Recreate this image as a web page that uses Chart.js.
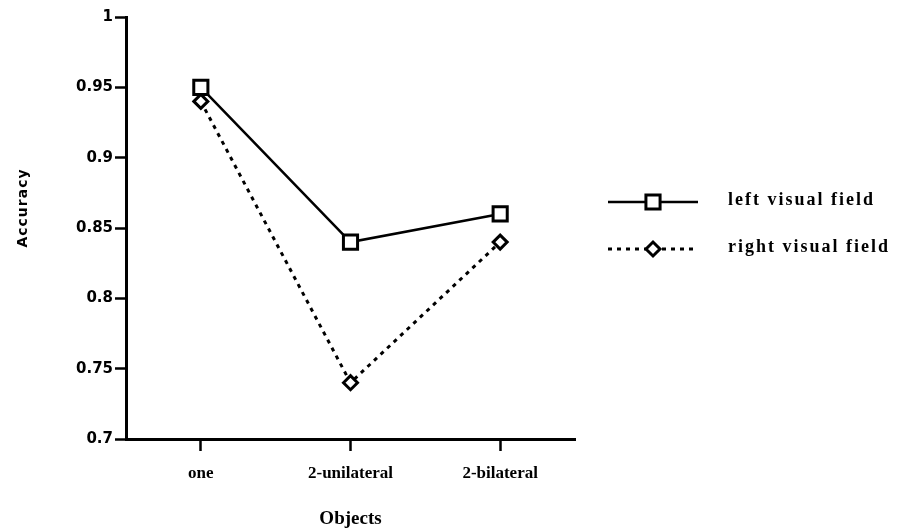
<!DOCTYPE html>
<html>
<head>
<meta charset="utf-8">
<script src="https://cdn.jsdelivr.net/npm/chart.js@4/dist/chart.umd.min.js"></script>
<style>
  html, body { margin: 0; padding: 0; background: #fff; }
  #wrap { width: 902px; height: 530px; }
</style>
</head>
<body>
<div id="wrap"><canvas id="myChart" width="902" height="530"></canvas></div>
<script>
const categories = ['one', '2-unilateral', '2-bilateral'];
const leftField = [0.95, 0.84, 0.86];
const rightField = [0.94, 0.74, 0.84];
const yTicks = [0.7, 0.75, 0.8, 0.85, 0.9, 0.95, 1];
const seriesNames = ['left visual field', 'right visual field'];
const yTitle = 'Accuracy';

const serif = "'Liberation Serif', 'DejaVu Serif', serif";
const sans = "'DejaVu Sans', 'Liberation Sans', sans-serif";
const ink = '#000';

// legend drawn by hand on the right, line sample with marker in the middle
const sideLegend = {
    id: 'sideLegend',
    afterDraw(chart) {
        const c = chart.ctx;
        const rows = [202, 249];
        chart.data.datasets.forEach((ds, i) => {
            const y = rows[i];
            c.save();
            c.strokeStyle = ink;
            c.lineWidth = ds.borderWidth;
            c.setLineDash(ds.borderDash || []);
            c.beginPath();
            c.moveTo(608, y);
            c.lineTo(698, y);
            c.stroke();
            c.setLineDash([]);
            c.fillStyle = '#fff';
            c.lineWidth = ds.pointBorderWidth;
            Chart.helpers.drawPoint(c, {
                pointStyle: ds.pointStyle,
                radius: ds.pointRadius,
                rotation: 0,
                borderWidth: ds.pointBorderWidth
            }, 653, y);
            c.fillStyle = ink;
            c.font = 'bold 18px ' + serif;
            c.letterSpacing = '2px';
            c.textBaseline = 'middle';
            c.fillText(seriesNames[i], 728, y - 2);
            c.restore();
        });
        // y axis title sits a bit above the middle of the axis
        c.save();
        c.translate(23, 208);
        c.rotate(-Math.PI / 2);
        c.font = 'bold 14px ' + sans;
        c.letterSpacing = '1px';
        c.fillStyle = ink;
        c.textAlign = 'center';
        c.textBaseline = 'middle';
        c.fillText(yTitle, 0, 0);
        c.restore();
    }
};

const ctx = document.getElementById('myChart').getContext('2d');
ctx.letterSpacing = '1px';

new Chart(ctx, {
    type: 'line',
    data: {
        labels: categories,
        datasets: [{
            label: seriesNames[0],
            data: leftField,
            borderColor: ink,
            borderWidth: 2.5,
            pointStyle: 'rect',
            pointRadius: 10,
            pointBorderWidth: 3,
            pointBackgroundColor: '#fff',
            pointBorderColor: ink,
            tension: 0
        }, {
            label: seriesNames[1],
            data: rightField,
            borderColor: ink,
            borderWidth: 3,
            borderDash: [4, 5],
            pointStyle: 'rectRot',
            pointRadius: 7,
            pointBorderWidth: 3,
            pointBackgroundColor: '#fff',
            pointBorderColor: ink,
            tension: 0
        }]
    },
    options: {
        responsive: false,
        animation: false,
        layout: { padding: { top: 17, right: 327, left: 0, bottom: 0 } },
        plugins: {
            legend: { display: false },
            tooltip: { enabled: false }
        },
        scales: {
            x: {
                offset: true,
                grid: {
                    offset: false,
                    drawOnChartArea: false,
                    drawTicks: true,
                    tickLength: 12,
                    tickWidth: 2.5,
                    tickColor: ink
                },
                border: { display: true, color: ink, width: 3 },
                ticks: {
                    color: ink,
                    padding: 12,
                    font: { family: serif, size: 17, weight: 'bold' }
                },
                title: {
                    display: true,
                    text: 'Objects',
                    color: ink,
                    padding: { top: 16, bottom: 0 },
                    font: { family: serif, size: 19, weight: 'bold' }
                },
                afterFit: s => { s.height = 91; }
            },
            y: {
                min: 0.7,
                max: 1,
                afterBuildTicks: s => { s.ticks = yTicks.map(v => ({ value: v })); },
                grid: {
                    drawOnChartArea: false,
                    drawTicks: true,
                    tickLength: 11,
                    tickWidth: 2.5,
                    tickColor: ink
                },
                border: { display: true, color: ink, width: 3 },
                ticks: {
                    color: ink,
                    padding: 2,
                    font: { family: sans, size: 15, weight: 'bold' },
                    callback: v => String(+v.toFixed(2))
                },
                afterFit: s => { s.width = 126; }
            }
        }
    },
    plugins: [sideLegend]
});
</script>
</body>
</html>
